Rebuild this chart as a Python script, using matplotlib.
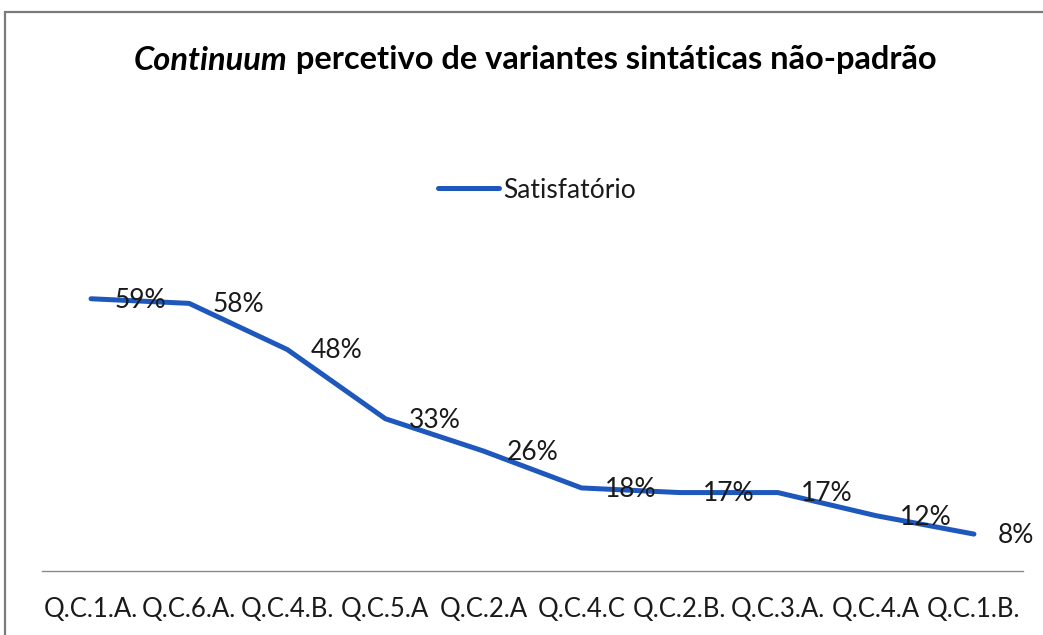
import matplotlib
matplotlib.use("Agg")
import matplotlib.pyplot as plt
from matplotlib.patches import Rectangle
from matplotlib.lines import Line2D

plt.rcParams['font.family'] = ['Lato', 'DejaVu Sans']

categories = ["Q.C.1.A.", "Q.C.6.A.", "Q.C.4.B.", "Q.C.5.A", "Q.C.2.A",
              "Q.C.4.C", "Q.C.2.B.", "Q.C.3.A.", "Q.C.4.A", "Q.C.1.B."]
satisfatorio = [59, 58, 48, 33, 26, 18, 17, 17, 12, 8]
series_name = "Satisfatório"

LINE_COLOR = "#1f58bd"
TEXT_COLOR = "#1a1a1a"
W, H = 1043, 635

fig = plt.figure(figsize=(W / 100, H / 100), dpi=100)

# chart area frame (gray border, cut by the right and bottom edges)
fig.patches.append(Rectangle((5 / W, -0.1), 1.2, 1.1 - 12 / H, transform=fig.transFigure,
                             fill=False, edgecolor="#7a7a7a", linewidth=1.6))

ax = fig.add_axes([42 / W, 1 - 571 / H, (1023 - 42) / W, (571 - 248) / H])
x = list(range(len(categories)))
ax.plot(x, satisfatorio, color=LINE_COLOR, linewidth=3.6, solid_capstyle="round",
        solid_joinstyle="round")

for xi, v in zip(x, satisfatorio):
    ax.annotate(f"{v}%", (xi, v), xytext=(17, -1), textcoords="offset points",
                ha="left", va="center", fontsize=19, color=TEXT_COLOR)

ax.set_xlim(-0.5, len(categories) - 0.5)
ax.set_ylim(0, 70)
ax.set_xticks(x)
ax.set_xticklabels(categories, fontsize=18.5, color=TEXT_COLOR)
ax.set_yticks([])
ax.tick_params(axis="x", length=0, pad=19)
for side in ["top", "left", "right"]:
    ax.spines[side].set_visible(False)
ax.spines["bottom"].set_color("#8a8a8a")
ax.spines["bottom"].set_linewidth(1.0)

# legend
handle = Line2D([], [], color=LINE_COLOR, linewidth=3.6, solid_capstyle="round")
fig.legend([handle], [series_name], loc="center", bbox_to_anchor=(537 / W, 1 - 190 / H),
           frameon=False, fontsize=19, handlelength=2.3, handletextpad=0.15,
           labelcolor=TEXT_COLOR)

# title: italic word followed by the rest in bold
renderer = fig.canvas.get_renderer()
t1 = fig.text(0, 1 - 60 / H, "Continuum", fontsize=23.5, fontweight="bold",
              fontstyle="italic", va="center", ha="left", color="black")
t2 = fig.text(0, 1 - 60 / H, " percetivo de variantes sintáticas não-padrão", fontsize=23.5,
              fontweight="bold", va="center", ha="left", color="black")
w1 = t1.get_window_extent(renderer).width
w2 = t2.get_window_extent(renderer).width
x0 = 535 - (w1 + w2) / 2
t1.set_x(x0 / W)
t2.set_x((x0 + w1) / W)

fig.savefig("out.png", dpi=100)
